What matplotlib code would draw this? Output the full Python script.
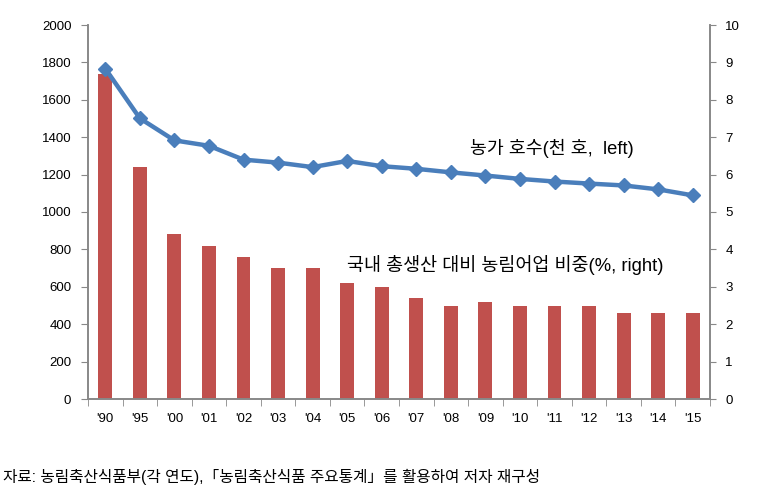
import matplotlib.pyplot as plt
import numpy as np

plt.rcParams['font.family'] = ['Liberation Sans', 'Noto Sans CJK KR']

years = ["'90", "'95", "'00", "'01", "'02", "'03", "'04", "'05", "'06",
         "'07", "'08", "'09", "'10", "'11", "'12", "'13", "'14", "'15"]
# 농가 호수 (천 호, left)
households = [1767, 1501, 1383, 1354, 1280, 1264, 1240, 1273, 1245,
              1231, 1212, 1195, 1177, 1163, 1152, 1142, 1121, 1089]
# 국내 총생산 대비 농림어업 비중 (%, right)
share = [8.7, 6.2, 4.4, 4.1, 3.8, 3.5, 3.5, 3.1, 3.0,
         2.7, 2.5, 2.6, 2.5, 2.5, 2.5, 2.3, 2.3, 2.3]

x = np.arange(len(years))

fig = plt.figure(figsize=(7.64, 4.98), dpi=100)
ax = fig.add_axes([88 / 764, 99 / 498, 622 / 764, 374 / 498])
ax2 = ax.twinx()

# 막대는 오른쪽 축, 선은 왼쪽 축 (선이 위에 그려지도록)
ax2.bar(x, share, width=0.4, color='#C0504D', zorder=1)
ax.set_zorder(ax2.get_zorder() + 1)
ax.patch.set_visible(False)
ax.plot(x, households, color='#4A7EBB', lw=3.2, marker='D', ms=7,
        markeredgecolor='#4A7EBB', zorder=3)

ax.set_xlim(-0.5, len(years) - 0.5)
ax.set_ylim(0, 2000)
ax.set_yticks(range(0, 2001, 200))
ax2.set_ylim(0, 10)
ax2.set_yticks(range(0, 11))

ax.set_xticks(x)
ax.set_xticklabels(years)
ax.set_xticks(np.arange(-0.5, len(years), 1), minor=True)
ax.tick_params(axis='x', which='major', length=0, pad=10, labelsize=9.5)
ax.tick_params(axis='x', which='minor', length=5, color='#888888')
ax.tick_params(axis='y', length=5, color='#888888', labelsize=9.5, pad=7)
ax2.tick_params(axis='y', length=4, color='#888888', labelsize=9.5, pad=7)

for a in (ax, ax2):
    a.spines['top'].set_visible(False)
    for s in ('left', 'right', 'bottom'):
        a.spines[s].set_color('#888888')
        a.spines[s].set_linewidth(1.2)

ax.text(10.55, 1342, '농가 호수(천 호,  left)', fontsize=13.2, ha='left', va='center')
ax.text(7.0, 717, '국내 총생산 대비 농림어업 비중(%, right)', fontsize=13.3,
        ha='left', va='center')

fig.text(3 / 764, 1 - 477 / 498, '자료: 농림축산식품부(각 연도),「농림축산식품 주요통계」를 활용하여 저자 재구성',
         fontsize=11.3, ha='left', va='center')

fig.savefig('out.png', dpi=100)
